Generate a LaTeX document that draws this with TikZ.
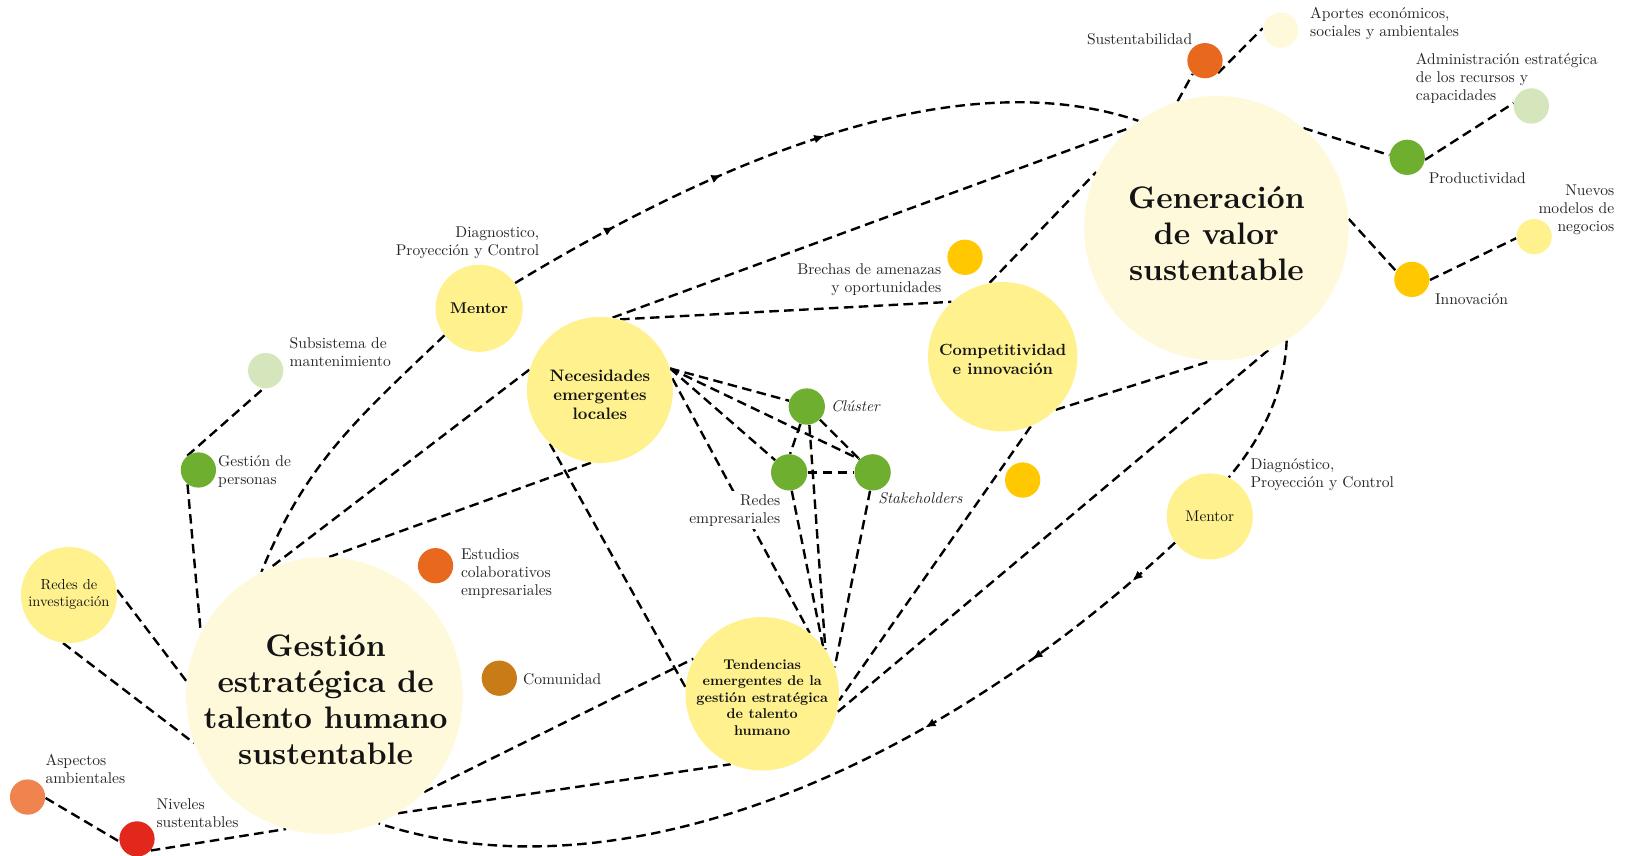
\documentclass[tikz,border=0pt]{standalone}
\usepackage{fontspec}
\setmainfont{lmroman10-regular.otf}[BoldFont=lmroman10-bold.otf,ItalicFont=lmroman10-italic.otf,BoldItalicFont=lmroman10-bolditalic.otf]
\usetikzlibrary{arrows.meta,decorations.markings,backgrounds}
\definecolor{cream}{HTML}{FFF9DB}
\definecolor{yel}{HTML}{FFF28E}
\definecolor{gold}{HTML}{FFC800}
\definecolor{grn}{HTML}{6FAF2F}
\definecolor{lgrn}{HTML}{D5E5BC}
\definecolor{orng}{HTML}{E8681E}
\definecolor{salm}{HTML}{EF844E}
\definecolor{redd}{HTML}{E2271C}
\definecolor{dgold}{HTML}{C97B18}
\begin{document}
\begin{tikzpicture}[x=0.5pt,y=-0.5pt,
  bubble/.style={circle,inner sep=0pt,minimum size=#1},
  ctext/.style={align=center,inner sep=0pt,text=black!92},
  lbl/.style={inner sep=0pt,text=black!85,font=\fontsize{7.5}{8.7}\selectfont},
  lblL/.style={lbl,anchor=west,align=left},
  lblR/.style={lbl,anchor=east,align=right},
  con/.style={line width=1.15pt,dash pattern=on 4.6pt off 2.6pt},
  >={Latex[length=5pt,width=4.2pt]}]
\useasboundingbox (0,0) rectangle (1568,825);

% big circles
\node[bubble=127.5pt,fill=cream] (gv) at (1173,220) {};
\node[ctext,font=\fontsize{15}{17.4}\selectfont\bfseries] (gvt) at (1173,225) {Generación\\de valor\\sustentable};
\node[bubble=133.4pt,fill=cream] (ge) at (312.8,670.8) {};
\node[ctext,font=\fontsize{15}{17.3}\selectfont\bfseries] (get) at (314,674.5) {Gestión\\estratégica de\\talento humano\\sustentable};
\node[bubble=70.4pt,fill=yel] (nec) at (578.5,376) {};
\node[ctext,font=\fontsize{8}{9.1}\selectfont\bfseries] (nect) at (578.5,381) {Necesidades\\emergentes\\locales};
\node[bubble=72pt,fill=yel] (comp) at (966.9,344) {};
\node[ctext,font=\fontsize{7.8}{9.1}\selectfont\bfseries] (compt) at (967,346.6) {Competitividad\\e innovación};
\node[bubble=74pt,fill=yel] (tend) at (735,669) {};
\node[ctext,font=\fontsize{6.8}{7.9}\selectfont\bfseries] (tendt) at (735,672.5) {Tendencias\\emergentes de la\\gestión estratégica\\de talento\\humano};
\node[bubble=42pt,fill=yel] (ml) at (462,297.3) {};
\node[ctext,font=\fontsize{7.5}{9}\selectfont\bfseries] (mlt) at (462,297.5) {Mentor};
\node[bubble=41.5pt,fill=yel] (mr) at (1166.6,498) {};
\node[ctext,font=\fontsize{7.4}{9}\selectfont] (mrt) at (1166.6,498) {Mentor};
\node[bubble=46.3pt,fill=yel] (ri) at (66.5,573.8) {};
\node[ctext,font=\fontsize{7}{8.4}\selectfont] (rit) at (66.5,573.5) {Redes de\\investigación};

% small circles
\node[bubble=17pt,fill=orng] (sus) at (1162,58.5) {};
\node[bubble=17pt,fill=cream] (apo) at (1235,29) {};
\node[bubble=17pt,fill=lgrn] (adm) at (1476.7,102.2) {};
\node[bubble=17pt,fill=grn] (prod) at (1357,151.7) {};
\node[bubble=17pt,fill=yel] (nue) at (1479.4,228.2) {};
\node[bubble=17pt,fill=gold] (inn) at (1361.5,269.4) {};
\node[bubble=17pt,fill=gold] (bre) at (930.6,248.1) {};
\node[bubble=17pt,fill=gold] (gdot) at (986.2,462.9) {};
\node[bubble=17.5pt,fill=grn] (clu) at (778,392) {};
\node[bubble=17.5pt,fill=grn] (red) at (761,455.5) {};
\node[bubble=17.5pt,fill=grn] (stk) at (841.5,455.5) {};
\node[bubble=17pt,fill=lgrn] (sub) at (256.2,357.4) {};
\node[bubble=17pt,fill=grn] (per) at (191.3,453.2) {};
\node[bubble=17pt,fill=orng] (est) at (420,545.5) {};
\node[bubble=17pt,fill=dgold] (com) at (481.5,654) {};
\node[bubble=17pt,fill=salm] (asp) at (26.6,768.6) {};
\node[bubble=17pt,fill=redd] (niv) at (132.1,809) {};

% labels
\node[lblR] (lsus) at (1150,37.5) {Sustentabilidad};
\node[lblL] (lapo) at (1263,23) {Aportes económicos,\\sociales y ambientales};
\node[lblL] (ladm) at (1365,76) {Administración estratégica\\de los recursos y\\capacidades};
\node[lblL] (lprod) at (1377.4,171.5) {Productividad};
\node[lblR] (lnue) at (1557,202) {Nuevos\\modelos de\\negocios};
\node[lblL] (linn) at (1383.4,288.3) {Innovación};
\node[lblR] (lbre) at (908,270) {Brechas de amenazas\\y oportunidades};
\node[lblR] (lml) at (520.3,234) {Diagnostico,\\Proyección y Control};
\node[lblL] (lmr) at (1205.6,457.5) {Diagnóstico,\\Proyección y Control};
\node[lblL] (lclu) at (801,392) {\itshape Clúster};
\node[lblL] (lstk) at (846.6,480.5) {\itshape Stakeholders};
\node[lblR,fill=white,inner sep=1.5pt] (lred) at (755.8,492) {Redes\\empresariales};
\node[lblL] (lsub) at (279,339.8) {Subsistema de\\mantenimiento};
\node[lblL] (lper) at (210,454.6) {Gestión de\\personas};
\node[lblL] (lest) at (444.2,553.3) {Estudios\\colaborativos\\empresariales};
\node[lblL] (lcom) at (504,655) {Comunidad};
\node[lblL] (lasp) at (43.6,741.6) {Aspectos\\ambientales};
\node[lblL] (lniv) at (150.6,784) {Niveles\\sustentables};

\begin{scope}[on background layer]
\fill[white] (0,0) rectangle (1568,825);
% around Generacion de valor
\draw[con] (gv.107) -- (sus.227);
\draw[con] (sus.316) -- (apo.174);
\draw[con] (gv.49) -- (prod.173);
\draw[con] (prod.352) -- (adm.171);
\draw[con] (gv.4) -- (inn.152);
\draw[con] (inn.358) -- (nue.185);
\draw[con,decoration={markings,
   mark=at position 0.172 with {\arrow{>}},
   mark=at position 0.352 with {\arrow{>}},
   mark=at position 0.518 with {\arrow{>}}},postaction={decorate}]
   (ml.35) .. controls (710,144) and (930,60) .. (gv.126);
\draw[con] (nec.80) -- (gv.131);
\draw[con] (nec.74) -- (comp.133);
\draw[con] (comp.100) -- (gv.155);
\draw[con] (comp.315) -- (gv.268);
\draw[con] (comp.292) -- (tend.355);
\draw[con] (gv.293) -- (tend.346);
\draw[con] (gv.302) .. controls (1238,385) and (1212,428) .. (mr.64);
\draw[con,decoration={markings,
   mark=at position 0.065 with {\arrow{>}},
   mark=at position 0.209 with {\arrow{>}},
   mark=at position 0.353 with {\arrow{>}}},postaction={decorate}]
   (mr.217) .. controls (905,736) and (603,872) .. (ge.293);
% Necesidades
\draw[con] (nec.17) -- (clu.162);
\draw[con] (nec.17) -- (stk.135);
\draw[con] (nec.17) -- (red.139);
\draw[con] (nec.9) -- (tend.52);
\draw[con] (nec.227) -- (tend.175);
\draw[con] (nec.164) -- (ge.113);
\draw[con] (nec.263) -- (ge.88);
% Gestion estrategica
\draw[con] (ml.218) .. controls (343,405) and (294,448) .. (ge.117);
\draw[con] (per.128) -- (sub.263);
\draw[con] (per.233) -- (ge.153);
\draw[con] (ri.6) -- (ge.174);
\draw[con] (ri.263) -- (ge.200);
\draw[con] (asp.357) -- (niv.188);
\draw[con] (niv.320) -- (ge.254);
\draw[con] (ge.316) -- (tend.153);
\draw[con] (ge.302) -- (tend.246);
% cluster
\draw[con] (clu.250) -- (red.87);
\draw[con] (clu) -- (stk);
\draw[con] (red) -- (stk);
\draw[con] (clu.278) -- (tend.35);
\draw[con] (red.278) -- (tend.38);
\draw[con] (stk.262) -- (tend.20);
\end{scope}
\end{tikzpicture}
\end{document}
